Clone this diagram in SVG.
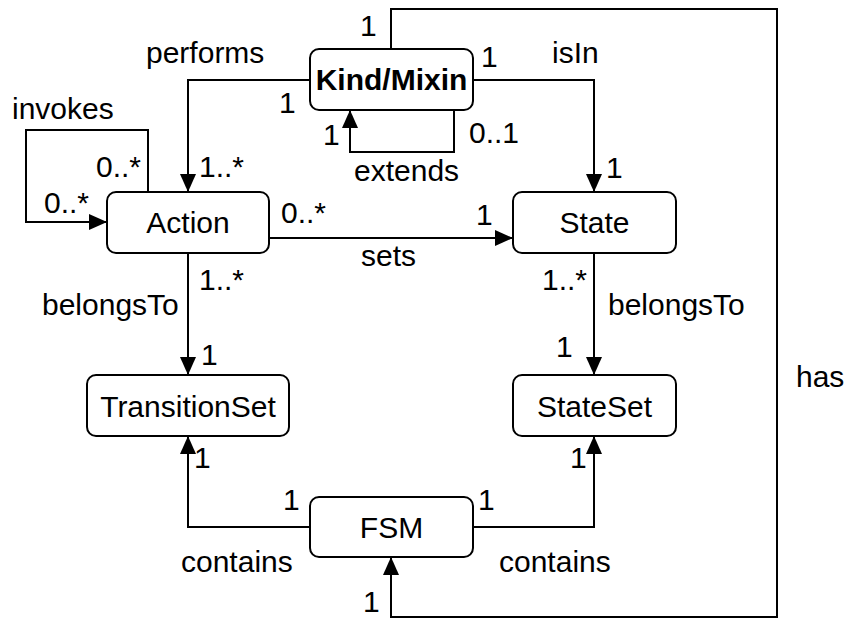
<svg xmlns="http://www.w3.org/2000/svg" width="845" height="619" viewBox="0 0 845 619">
<style>
.box{fill:#fff;stroke:#000;stroke-width:2}
.ln{fill:none;stroke:#000;stroke-width:2}
text{font-family:"Liberation Sans",Arial,Helvetica,sans-serif;font-size:30px;fill:#000}
.c{text-anchor:middle}
.b{font-weight:bold}
</style>
<defs>
<marker id="arr" markerUnits="userSpaceOnUse" markerWidth="19" markerHeight="18" refX="18" refY="9" orient="auto">
<path d="M0,1 L18,9 L0,17 z" fill="#000"/>
</marker>
</defs>
<g id="connectors">
<path class="ln" d="M310,80 H188 V192" marker-end="url(#arr)"/>
<path class="ln" d="M473,80 H594 V192" marker-end="url(#arr)"/>
<path class="ln" d="M454,110 V152 H350 V110" marker-end="url(#arr)"/>
<path class="ln" d="M148,192 V130 H26 V222 H107" marker-end="url(#arr)"/>
<path class="ln" d="M269,238 H513" marker-end="url(#arr)"/>
<path class="ln" d="M188,253 V375" marker-end="url(#arr)"/>
<path class="ln" d="M594,253 V375" marker-end="url(#arr)"/>
<path class="ln" d="M310,527 H188 V436" marker-end="url(#arr)"/>
<path class="ln" d="M473,527 H594 V436" marker-end="url(#arr)"/>
<path class="ln" d="M391,49 V9 H777 V617 H391 V557" marker-end="url(#arr)"/>
</g>
<g id="kindmixin"><rect class="box" x="310" y="49" width="163" height="61" rx="9"/><text class="c b" x="391.5" y="90">Kind/Mixin</text></g>
<g id="action"><rect class="box" x="107" y="192" width="162" height="61" rx="9"/><text class="c" x="188" y="233">Action</text></g>
<g id="state"><rect class="box" x="513" y="192" width="163" height="61" rx="9"/><text class="c" x="594.5" y="233">State</text></g>
<g id="transitionset"><rect class="box" x="87" y="375" width="202" height="61" rx="9"/><text class="c" x="188" y="417">TransitionSet</text></g>
<g id="stateset"><rect class="box" x="513" y="375" width="163" height="61" rx="9"/><text class="c" x="594.5" y="417">StateSet</text></g>
<g id="fsm"><rect class="box" x="310" y="497" width="163" height="60" rx="9"/><text class="c" x="391.5" y="538">FSM</text></g>
<g id="labels">
<text x="146" y="63">performs</text>
<text x="360" y="36">1</text>
<text x="279" y="113">1</text>
<text x="481" y="67">1</text>
<text x="552" y="63">isIn</text>
<text x="469" y="143">0..1</text>
<text x="606" y="178">1</text>
<text x="323" y="145">1</text>
<text x="354" y="181">extends</text>
<text x="12" y="119">invokes</text>
<text x="96" y="177">0..*</text>
<text x="44" y="213">0..*</text>
<text x="199" y="177">1..*</text>
<text x="281" y="223">0..*</text>
<text x="476" y="225">1</text>
<text x="361" y="266">sets</text>
<text x="199" y="290">1..*</text>
<text x="42" y="315">belongsTo</text>
<text x="201" y="365">1</text>
<text x="194" y="468">1</text>
<text x="283" y="510">1</text>
<text x="181" y="572">contains</text>
<text x="363" y="612">1</text>
<text x="542" y="290">1..*</text>
<text x="608" y="315">belongsTo</text>
<text x="556" y="357">1</text>
<text x="570" y="468">1</text>
<text x="478" y="510">1</text>
<text x="499" y="572">contains</text>
<text x="796" y="387">has</text>
</g>
</svg>
